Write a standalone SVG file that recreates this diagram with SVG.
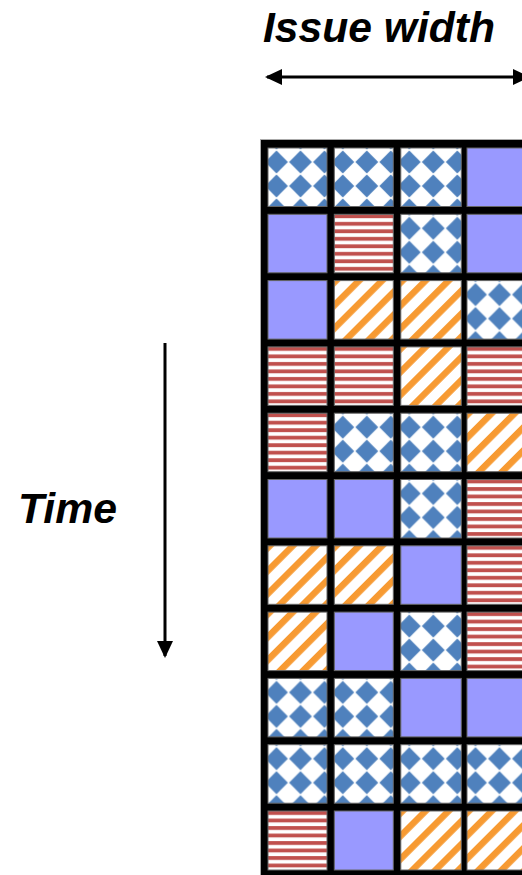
<svg xmlns="http://www.w3.org/2000/svg" width="522" height="875" viewBox="0 0 522 875">
<style>
.lbl{font-family:"Liberation Sans",Arial,sans-serif;font-weight:bold;font-style:italic;font-size:42px;fill:#000}
.cell{stroke:#666;stroke-width:1}
.P{fill:#9999ff}
.D{fill:url(#dot)}
.R{fill:url(#red)}
.O{fill:url(#orange)}
.arr{stroke:#000;stroke-width:3;fill:none}
</style>
<defs>
<pattern id="dot" patternUnits="userSpaceOnUse" x="-3.5" y="2" width="24" height="24">
<rect width="24" height="24" fill="#fff"/>
<path d="M12 0.6 L23.4 12 L12 23.4 L0.6 12 Z" fill="#4f81bd"/>
</pattern>
<pattern id="red" patternUnits="userSpaceOnUse" x="0" y="0" width="10" height="7.5">
<rect width="10" height="7.5" fill="#fff"/>
<rect y="0.1" width="10" height="3.8" fill="#c0504d"/>
</pattern>
<pattern id="orange" patternUnits="userSpaceOnUse" x="-2" y="0" width="16.26" height="16.26" patternTransform="rotate(45)">
<rect width="16.26" height="16.26" fill="#fff"/>
<rect width="6.5" height="16.26" fill="#f79a32"/>
</pattern>
<marker id="ah" viewBox="0 0 17 16" refX="15" refY="8" markerWidth="17" markerHeight="16" markerUnits="userSpaceOnUse" orient="auto-start-reverse">
<path d="M0 0 L17 8 L0 16 Z" fill="#000"/>
</marker>
</defs>

<g id="label-issue-width"><text class="lbl" x="263" y="42" textLength="232" lengthAdjust="spacingAndGlyphs">Issue width</text></g>
<g id="label-time"><text class="lbl" x="18" y="523" textLength="99" lengthAdjust="spacingAndGlyphs">Time</text></g>

<g id="connectors">
<line class="arr" x1="267" y1="77" x2="528" y2="77" marker-start="url(#ah)" marker-end="url(#ah)"/>
<line class="arr" x1="165" y1="343" x2="165" y2="656" marker-end="url(#ah)"/>
</g>

<g id="grid">
<rect id="grid-frame" x="260.5" y="139.5" width="270" height="740" fill="#000" stroke="#aaa" stroke-width="1"/>
<g id="row1">
<rect class="cell D" transform="translate(268,148)" width="59" height="58.5"/>
<rect class="cell D" transform="translate(334.3,148)" width="59" height="58.5"/>
<rect class="cell D" transform="translate(400.8,148)" width="60.5" height="58.5"/>
<rect class="cell P" transform="translate(467,148)" width="59" height="58.5"/>
</g>
<g id="row2">
<rect class="cell P" transform="translate(268,214.3)" width="59" height="58.5"/>
<rect class="cell R" transform="translate(334.3,214.3)" width="59" height="58.5"/>
<rect class="cell D" transform="translate(400.8,214.3)" width="60.5" height="58.5"/>
<rect class="cell P" transform="translate(467,214.3)" width="59" height="58.5"/>
</g>
<g id="row3">
<rect class="cell P" transform="translate(268,280.6)" width="59" height="58.5"/>
<rect class="cell O" transform="translate(334.3,280.6)" width="59" height="58.5"/>
<rect class="cell O" transform="translate(400.8,280.6)" width="60.5" height="58.5"/>
<rect class="cell D" transform="translate(467,280.6)" width="59" height="58.5"/>
</g>
<g id="row4">
<rect class="cell R" transform="translate(268,346.9)" width="59" height="58.5"/>
<rect class="cell R" transform="translate(334.3,346.9)" width="59" height="58.5"/>
<rect class="cell O" transform="translate(400.8,346.9)" width="60.5" height="58.5"/>
<rect class="cell R" transform="translate(467,346.9)" width="59" height="58.5"/>
</g>
<g id="row5">
<rect class="cell R" transform="translate(268,413.2)" width="59" height="58.5"/>
<rect class="cell D" transform="translate(334.3,413.2)" width="59" height="58.5"/>
<rect class="cell D" transform="translate(400.8,413.2)" width="60.5" height="58.5"/>
<rect class="cell O" transform="translate(467,413.2)" width="59" height="58.5"/>
</g>
<g id="row6">
<rect class="cell P" transform="translate(268,479.5)" width="59" height="58.5"/>
<rect class="cell P" transform="translate(334.3,479.5)" width="59" height="58.5"/>
<rect class="cell D" transform="translate(400.8,479.5)" width="60.5" height="58.5"/>
<rect class="cell R" transform="translate(467,479.5)" width="59" height="58.5"/>
</g>
<g id="row7">
<rect class="cell O" transform="translate(268,545.8)" width="59" height="58.5"/>
<rect class="cell O" transform="translate(334.3,545.8)" width="59" height="58.5"/>
<rect class="cell P" transform="translate(400.8,545.8)" width="60.5" height="58.5"/>
<rect class="cell R" transform="translate(467,545.8)" width="59" height="58.5"/>
</g>
<g id="row8">
<rect class="cell O" transform="translate(268,612.1)" width="59" height="58.5"/>
<rect class="cell P" transform="translate(334.3,612.1)" width="59" height="58.5"/>
<rect class="cell D" transform="translate(400.8,612.1)" width="60.5" height="58.5"/>
<rect class="cell R" transform="translate(467,612.1)" width="59" height="58.5"/>
</g>
<g id="row9">
<rect class="cell D" transform="translate(268,678.4)" width="59" height="58.5"/>
<rect class="cell D" transform="translate(334.3,678.4)" width="59" height="58.5"/>
<rect class="cell P" transform="translate(400.8,678.4)" width="60.5" height="58.5"/>
<rect class="cell P" transform="translate(467,678.4)" width="59" height="58.5"/>
</g>
<g id="row10">
<rect class="cell D" transform="translate(268,744.7)" width="59" height="58.5"/>
<rect class="cell D" transform="translate(334.3,744.7)" width="59" height="58.5"/>
<rect class="cell D" transform="translate(400.8,744.7)" width="60.5" height="58.5"/>
<rect class="cell D" transform="translate(467,744.7)" width="59" height="58.5"/>
</g>
<g id="row11">
<rect class="cell R" transform="translate(268,811)" width="59" height="59"/>
<rect class="cell P" transform="translate(334.3,811)" width="59" height="59"/>
<rect class="cell O" transform="translate(400.8,811)" width="60.5" height="59"/>
<rect class="cell O" transform="translate(467,811)" width="59" height="59"/>
</g>
</g>
</svg>
